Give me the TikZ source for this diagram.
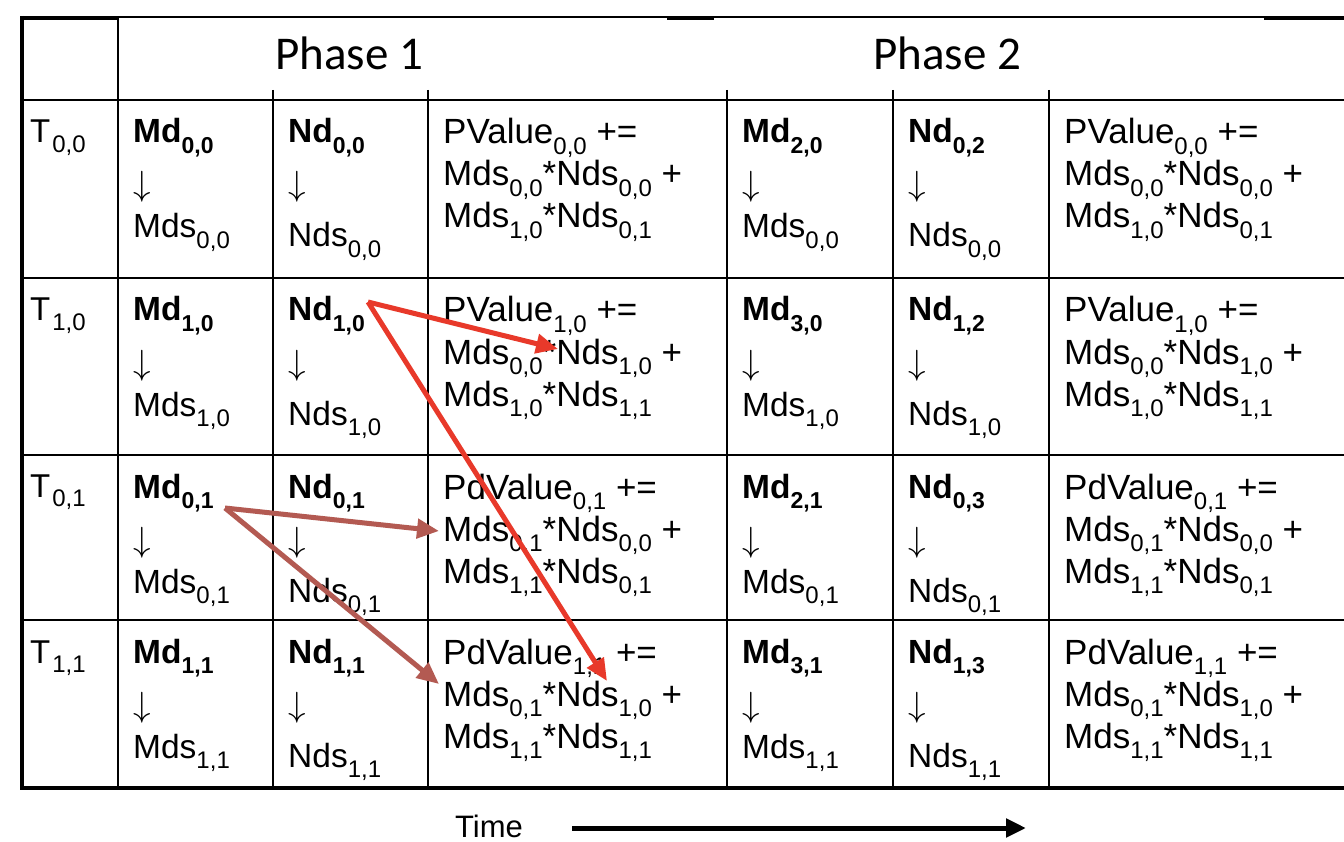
\RequirePackage{fix-cm}
\documentclass[tikz,border=0pt]{standalone}
\usepackage{fontspec}
\setmainfont{Liberation Sans}
\newfontfamily\phasefont{Carlito}
\usetikzlibrary{arrows.meta}
\definecolor{redarr}{HTML}{E8392A}
\definecolor{brownarr}{HTML}{B35A52}
\newcommand\sbx[1]{\raisebox{-0.3em}{\fontsize{24}{24}\selectfont #1}}
\newcommand\sbb[1]{\raisebox{-0.3em}{\fontsize{23}{23}\selectfont #1}}
\tikzset{
  txt/.style={inner sep=0pt, anchor=base west, font=\fontsize{33.5}{40}\selectfont},
  ptxt/.style={inner sep=0pt, anchor=base west, font=\fontsize{35}{42}\selectfont},
  ttxt/.style={inner sep=0pt, anchor=base west, font=\fontsize{33}{36}\selectfont},
  arrtxt/.style={inner sep=0pt, anchor=base west, font=\fontsize{35}{35}\selectfont},
  phase/.style={inner sep=0pt, anchor=base, font=\phasefont\fontsize{47}{47}\selectfont},
  gridline/.style={line width=1.8pt, black},
  border/.style={line width=3.6pt, black},
  redcon/.style={line width=5pt, redarr, -{Triangle[length=22pt,width=19pt]}},
  browncon/.style={line width=5pt, brownarr, -{Triangle[length=22pt,width=19pt]}},
  timecon/.style={line width=5pt, black, -{Triangle[length=20pt,width=18pt]}}
}
% name, x, ytop, top text, bottom text, bottom offset
\newcommand\mdcell[6]{%
  \node[txt] (#1a) at (#2,#3+43) {\bfseries #4};
  \node[arrtxt] (#1b) at (#2,#3+96) {$\downarrow$};
  \node[txt] (#1c) at (#2,#3+#6) {#5};
}
% name, x, ytop, line1, line2, line3
\newcommand\pcell[6]{%
  \node[ptxt] (#1a) at (#2,#3+44) {#4};
  \node[ptxt] (#1b) at (#2,#3+86) {#5};
  \node[ptxt] (#1c) at (#2,#3+128) {#6};
}
\begin{document}
\begin{tikzpicture}[x=1pt,y=-1pt]
\useasboundingbox (0,0) rectangle (1344,842);
\fill[white] (0,0) rectangle (1344,842);

% grid
\draw[gridline] (22,17) -- (1344,17);
\foreach \yy in {100,278,455,620} \draw[gridline] (22,\yy) -- (1344,\yy);
\draw[gridline] (118,17) -- (118,788);
\foreach \xx in {273,428,727,893,1049} \draw[gridline] (\xx,90) -- (\xx,788);
\draw[border] (22,18) -- (118,18);
\draw[border] (667,18) -- (714,18);
\draw[border] (1264,18) -- (1344,18);
\draw[border] (22,16) -- (22,790);
\draw[line width=4pt] (20,788) -- (1344,788);

% header
\node[phase] (ph1) at (349,70) {Phase 1};
\node[phase] (ph2) at (947,70) {Phase 2};

% row labels
\node[ttxt] (t1) at (30,100+43) {T\kern2pt\sbx{0,0}};
\node[ttxt] (t2) at (30,278+43) {T\kern2pt\sbx{1,0}};
\node[ttxt] (t3) at (30,455+42) {T\kern2pt\sbx{0,1}};
\node[ttxt] (t4) at (30,620+43) {T\kern2pt\sbx{1,1}};

% phase 1 Md / Nd
\mdcell{ma}{133}{100}{Md\sbb{0,0}}{Mds\sbx{0,0}}{138}
\mdcell{mb}{133}{278}{Md\sbb{1,0}}{Mds\sbx{1,0}}{138}
\mdcell{mc}{133}{455}{Md\sbb{0,1}}{Mds\sbx{0,1}}{138}
\mdcell{md}{133}{620}{Md\sbb{1,1}}{Mds\sbx{1,1}}{138}
\mdcell{na}{288}{100}{Nd\sbb{0,0}}{Nds\sbx{0,0}}{147}
\mdcell{nb}{288}{278}{Nd\sbb{1,0}}{Nds\sbx{1,0}}{147}
\mdcell{nc}{288}{455}{Nd\sbb{0,1}}{Nds\sbx{0,1}}{147}
\mdcell{nd}{288}{620}{Nd\sbb{1,1}}{Nds\sbx{1,1}}{147}

% phase 1 products
\pcell{pa}{443}{100}{PValue\sbx{0,0} +=}{Mds\sbx{0,0}*Nds\sbx{0,0} +}{Mds\sbx{1,0}*Nds\sbx{0,1}}
\pcell{pb}{443}{278}{PValue\sbx{1,0} +=}{Mds\sbx{0,0}*Nds\sbx{1,0} +}{Mds\sbx{1,0}*Nds\sbx{1,1}}
\pcell{pc}{443}{455}{PdValue\sbx{0,1} +=}{Mds\sbx{0,1}*Nds\sbx{0,0} +}{Mds\sbx{1,1}*Nds\sbx{0,1}}
\pcell{pd}{443}{620}{PdValue\sbx{1,1} +=}{Mds\sbx{0,1}*Nds\sbx{1,0} +}{Mds\sbx{1,1}*Nds\sbx{1,1}}

% phase 2 Md / Nd
\mdcell{qa}{742}{100}{Md\sbb{2,0}}{Mds\sbx{0,0}}{138}
\mdcell{qb}{742}{278}{Md\sbb{3,0}}{Mds\sbx{1,0}}{138}
\mdcell{qc}{742}{455}{Md\sbb{2,1}}{Mds\sbx{0,1}}{138}
\mdcell{qd}{742}{620}{Md\sbb{3,1}}{Mds\sbx{1,1}}{138}
\mdcell{ra}{908}{100}{Nd\sbb{0,2}}{Nds\sbx{0,0}}{147}
\mdcell{rb}{908}{278}{Nd\sbb{1,2}}{Nds\sbx{1,0}}{147}
\mdcell{rc}{908}{455}{Nd\sbb{0,3}}{Nds\sbx{0,1}}{147}
\mdcell{rd}{908}{620}{Nd\sbb{1,3}}{Nds\sbx{1,1}}{147}

% phase 2 products
\pcell{sa}{1064}{100}{PValue\sbx{0,0} +=}{Mds\sbx{0,0}*Nds\sbx{0,0} +}{Mds\sbx{1,0}*Nds\sbx{0,1}}
\pcell{sb}{1064}{278}{PValue\sbx{1,0} +=}{Mds\sbx{0,0}*Nds\sbx{1,0} +}{Mds\sbx{1,0}*Nds\sbx{1,1}}
\pcell{sc}{1064}{455}{PdValue\sbx{0,1} +=}{Mds\sbx{0,1}*Nds\sbx{0,0} +}{Mds\sbx{1,1}*Nds\sbx{0,1}}
\pcell{sd}{1064}{620}{PdValue\sbx{1,1} +=}{Mds\sbx{0,1}*Nds\sbx{1,0} +}{Mds\sbx{1,1}*Nds\sbx{1,1}}

% connectors
\coordinate (ndsrc) at (368,302);
\coordinate (ndtgtA) at (558,349);
\coordinate (ndtgtB) at (607,681);
\coordinate (mdsrc) at (225,508);
\coordinate (mdtgtA) at (439,531);
\coordinate (mdtgtB) at (439,684);
\draw[browncon] (mdsrc) -- (mdtgtA);
\draw[browncon] (mdsrc) -- (mdtgtB);
\draw[redcon] (ndsrc) -- (ndtgtA);
\draw[redcon] (ndsrc) -- (ndtgtB);

% time axis
\node[inner sep=0pt, anchor=base, font=\fontsize{31}{31}\selectfont] (time) at (489,837) {Time};
\coordinate (ts) at (572,828);
\coordinate (te) at (1026,828);
\draw[timecon] (ts) -- (te);
\end{tikzpicture}
\end{document}
